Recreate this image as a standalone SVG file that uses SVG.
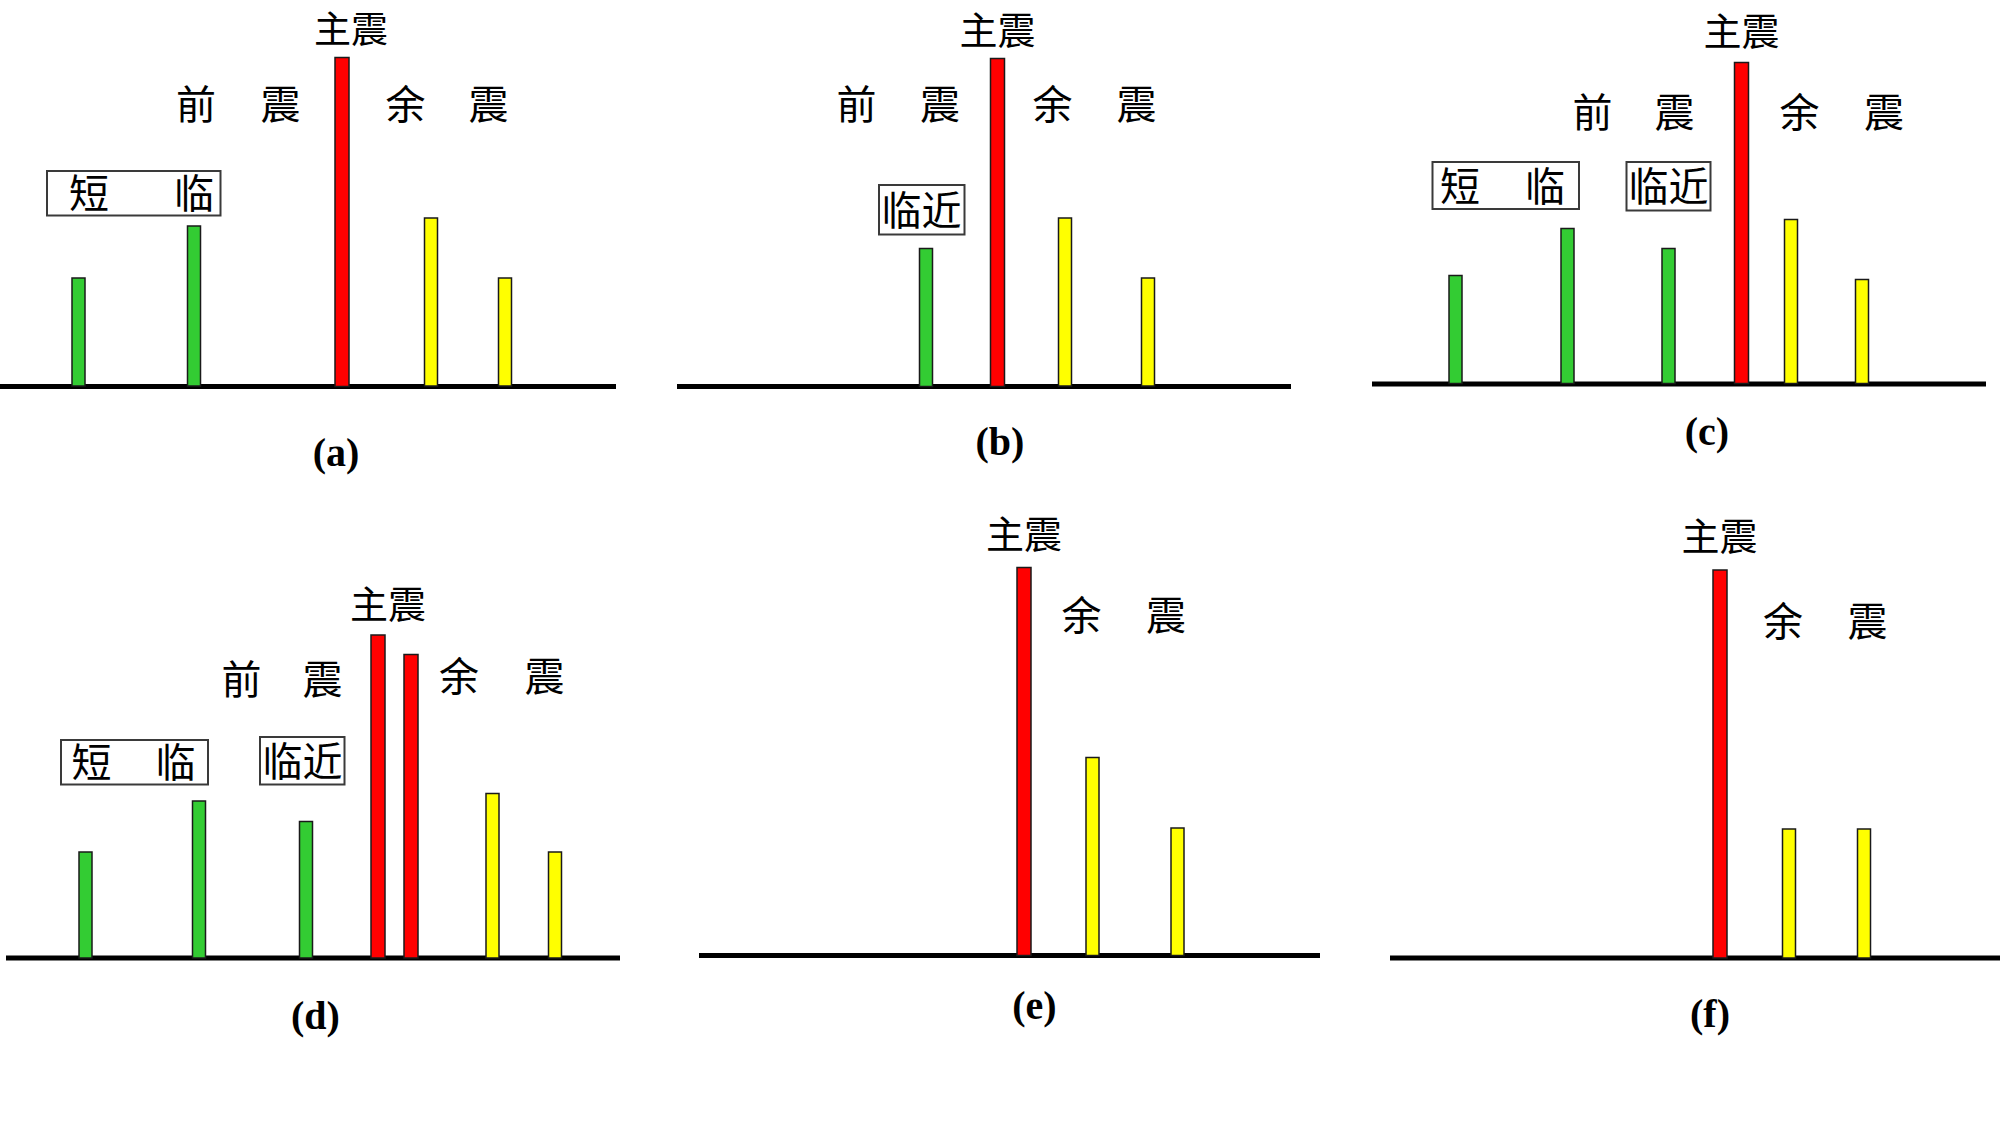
<svg xmlns="http://www.w3.org/2000/svg" width="2000" height="1125" viewBox="0 0 2000 1125">
<style>
.g{fill:#33CC33;stroke:#1a1a1a;stroke-width:1.5}
.r{fill:#FF0000;stroke:#1a1a1a;stroke-width:1.5}
.y{fill:#FFFF00;stroke:#1a1a1a;stroke-width:1.5}
.axis{stroke:#000;stroke-width:5}
.box{fill:#fff;stroke:#3a3a3a;stroke-width:2}
.cjk{font-family:"Noto Sans CJK SC","Noto Sans",sans-serif;font-size:40px;text-anchor:middle;fill:#000}
.main{font-size:38px}
.cap{font-family:"Liberation Serif",serif;font-size:40px;font-weight:bold;text-anchor:middle;fill:#000}
</style>
<rect width="2000" height="1125" fill="#fff"/>

<g id="panel-a">
  <line class="axis" x1="0" y1="386.5" x2="616" y2="386.5"/>
  <rect class="g" x="72" y="278" width="13" height="108"/>
  <rect class="g" x="187.5" y="226" width="13" height="160"/>
  <rect class="r" x="335" y="57.5" width="14" height="329"/>
  <rect class="y" x="424.5" y="218" width="13" height="168"/>
  <rect class="y" x="498.5" y="278" width="13" height="108"/>
  <rect class="box" x="47" y="171" width="173.5" height="44.5"/>
  <text class="cjk" x="89" y="208">短<tspan x="194">临</tspan></text>
  <text class="cjk" x="351" y="43" style="font-size:37px">主震</text>
  <text class="cjk" x="196" y="118.5">前<tspan x="280.5">震</tspan></text>
  <text class="cjk" x="405.5" y="118.5">余<tspan x="488.5">震</tspan></text>
  <text class="cap" x="336" y="466">(a)</text>
</g>

<g id="panel-b">
  <line class="axis" x1="677" y1="386.5" x2="1291" y2="386.5"/>
  <rect class="g" x="919.5" y="248.5" width="13" height="138"/>
  <rect class="r" x="990.5" y="58.5" width="14" height="328"/>
  <rect class="y" x="1058.5" y="218" width="13" height="168"/>
  <rect class="y" x="1141.5" y="278" width="13" height="108"/>
  <rect class="box" x="879" y="185" width="85.5" height="49.5"/>
  <text class="cjk" x="921.5" y="225">临近</text>
  <text class="cjk main" x="997.5" y="44">主震</text>
  <text class="cjk" x="856.5" y="118.5">前<tspan x="940">震</tspan></text>
  <text class="cjk" x="1052.5" y="118.5">余<tspan x="1136.5">震</tspan></text>
  <text class="cap" x="1000" y="455">(b)</text>
</g>

<g id="panel-c">
  <line class="axis" x1="1372" y1="384" x2="1986" y2="384"/>
  <rect class="g" x="1449" y="275.5" width="13" height="108"/>
  <rect class="g" x="1561" y="228.5" width="13" height="155"/>
  <rect class="g" x="1662" y="248.5" width="13" height="135"/>
  <rect class="r" x="1734.5" y="62.5" width="14" height="321"/>
  <rect class="y" x="1784.5" y="219.5" width="13" height="164"/>
  <rect class="y" x="1855.5" y="279.5" width="13" height="104"/>
  <rect class="box" x="1432.5" y="162" width="146.5" height="47"/>
  <text class="cjk" x="1460" y="200.5">短<tspan x="1545">临</tspan></text>
  <rect class="box" x="1626.5" y="162" width="84" height="48.5"/>
  <text class="cjk" x="1668.5" y="201">临近</text>
  <text class="cjk main" x="1741.5" y="45">主震</text>
  <text class="cjk" x="1592.5" y="127">前<tspan x="1674.5">震</tspan></text>
  <text class="cjk" x="1799.5" y="127">余<tspan x="1884">震</tspan></text>
  <text class="cap" x="1707" y="445">(c)</text>
</g>

<g id="panel-d">
  <line class="axis" x1="6" y1="958" x2="620" y2="958"/>
  <rect class="g" x="79" y="852" width="13" height="106"/>
  <rect class="g" x="192.5" y="801" width="13" height="157"/>
  <rect class="g" x="299.5" y="821.5" width="13" height="136.5"/>
  <rect class="r" x="371" y="635" width="14" height="323"/>
  <rect class="r" x="404" y="654.5" width="14" height="303.5"/>
  <rect class="y" x="486" y="793.5" width="13" height="164.5"/>
  <rect class="y" x="548.5" y="852" width="13" height="106"/>
  <rect class="box" x="61" y="740" width="147" height="44.5"/>
  <text class="cjk" x="91.5" y="777">短<tspan x="175.5">临</tspan></text>
  <rect class="box" x="260" y="737" width="84.5" height="47.5"/>
  <text class="cjk" x="302.5" y="776">临近</text>
  <text class="cjk main" x="388" y="618">主震</text>
  <text class="cjk" x="241.5" y="694">前<tspan x="322.5">震</tspan></text>
  <text class="cjk" x="459" y="691">余<tspan x="544.5">震</tspan></text>
  <text class="cap" x="315.5" y="1029">(d)</text>
</g>

<g id="panel-e">
  <line class="axis" x1="699" y1="955.5" x2="1320" y2="955.5"/>
  <rect class="r" x="1017" y="567.5" width="14" height="388"/>
  <rect class="y" x="1086" y="757.5" width="13" height="198"/>
  <rect class="y" x="1171" y="828" width="13" height="127.5"/>
  <text class="cjk main" x="1024" y="547.5">主震</text>
  <text class="cjk" x="1081.5" y="629.5">余<tspan x="1166">震</tspan></text>
  <text class="cap" x="1034.5" y="1019">(e)</text>
</g>

<g id="panel-f">
  <line class="axis" x1="1390" y1="958" x2="2000" y2="958"/>
  <rect class="r" x="1713" y="570" width="14" height="388"/>
  <rect class="y" x="1782.5" y="829" width="13" height="129"/>
  <rect class="y" x="1857.5" y="829" width="13" height="129"/>
  <text class="cjk main" x="1719.5" y="550">主震</text>
  <text class="cjk" x="1783" y="635.5">余<tspan x="1867.5">震</tspan></text>
  <text class="cap" x="1710" y="1027">(f)</text>
</g>

<g id="connectors"></g>
</svg>
